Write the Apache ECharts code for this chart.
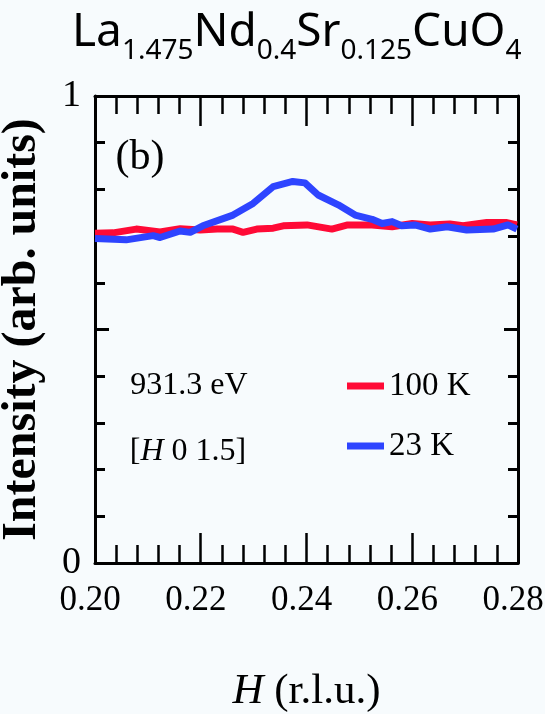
<!DOCTYPE html>
<html>
<head>
<meta charset="utf-8">
<script src="https://cdn.jsdelivr.net/npm/echarts@6.0.0/dist/echarts.min.js"></script>
<style>
  html, body { margin: 0; padding: 0; background: #f7fbfd; }
  #chart { width: 545px; height: 714px; }
</style>
</head>
<body>
<div id="chart"></div>
<script>
// 23 K scan (blue)
const h23 = [0.2000, 0.2059, 0.2110, 0.2123, 0.2161, 0.2180, 0.2204, 0.2261, 0.2299, 0.2337,
  0.2374, 0.2397, 0.2422, 0.2460, 0.2492, 0.2524, 0.2543, 0.2562, 0.2580, 0.2605,
  0.2634, 0.2666, 0.2703, 0.2753, 0.2781, 0.2798]
const i23 = [0.695, 0.692, 0.701, 0.697, 0.711, 0.708, 0.722, 0.745, 0.770, 0.806,
  0.817, 0.814, 0.788, 0.767, 0.745, 0.736, 0.727, 0.731, 0.722, 0.724,
  0.715, 0.720, 0.713, 0.715, 0.724, 0.715]

// 100 K scan (red)
const h100 = [0.2000, 0.2034, 0.2078, 0.2123, 0.2161, 0.2199, 0.2231, 0.2261, 0.2280, 0.2306,
  0.2337, 0.2356, 0.2401, 0.2448, 0.2478, 0.2524, 0.2562, 0.2600, 0.2634, 0.2671,
  0.2696, 0.2741, 0.2779, 0.2798]
const i100 = [0.706, 0.707, 0.715, 0.709, 0.716, 0.713, 0.715, 0.715, 0.708, 0.715,
  0.717, 0.722, 0.724, 0.715, 0.724, 0.724, 0.720, 0.727, 0.724, 0.726,
  0.722, 0.729, 0.729, 0.724]

const seriesNames = ['100 K', '23 K']
const xTicks = [0.20, 0.22, 0.24, 0.26, 0.28]

const serif = 'Liberation Serif'
const zip = (xs, ys) => xs.map((x, k) => [x, ys[k]])

// 坐标轴公共样式：刻度朝内，主刻度长、次刻度短
const xAxisBase = {
  type: 'value', min: 0.2, max: 0.28, interval: 0.02,
  axisLine: { show: true, onZero: false, lineStyle: { color: '#000', width: 3 } },
  axisTick: { show: true, inside: true, length: 30, lineStyle: { color: '#000', width: 2.5 } },
  minorTick: { show: true, splitNumber: 5, length: 18, lineStyle: { color: '#000', width: 2.5 } },
  splitLine: { show: false }
}
const yAxisBase = {
  type: 'value', min: 0, max: 1, interval: 0.5,
  axisLine: { show: true, onZero: false, lineStyle: { color: '#000', width: 3 } },
  axisTick: { show: true, inside: true, length: 14, lineStyle: { color: '#000', width: 3 } },
  minorTick: { show: true, splitNumber: 5, length: 10, lineStyle: { color: '#000', width: 3 } },
  splitLine: { show: false }
}

const chart = echarts.init(document.getElementById('chart'))

chart.setOption({
  backgroundColor: '#f7fbfd',
  animation: false,
  title: {
    text: '{m|La}{s|1.475}{m|Nd}{s|0.4}{m|Sr}{s|0.125}{m|CuO}{s|4}',
    left: 67, top: -4,
    textStyle: {
      fontWeight: 'normal',
      rich: {
        m: { fontFamily: 'Noto Sans', fontSize: 46, fontWeight: 'normal', color: '#000', lineHeight: 64, verticalAlign: 'middle' },
        s: { fontFamily: 'Noto Sans', fontSize: 28, fontWeight: 'normal', color: '#000', lineHeight: 28, verticalAlign: 'bottom' }
      }
    }
  },
  grid: { left: 95, right: 27, top: 96, bottom: 151, containLabel: false, outerBoundsMode: 'none' },
  legend: {
    data: seriesNames,
    orient: 'vertical', left: 342, top: 362,
    icon: 'rect', itemWidth: 37, itemHeight: 7, itemGap: 22,
    textStyle: { fontFamily: serif, fontSize: 33, color: '#000', lineHeight: 38 }
  },
  xAxis: [
    Object.assign({}, xAxisBase, {
      position: 'bottom',
      name: '{i|H} (r.l.u.)',
      nameLocation: 'middle', nameGap: 107,
      nameTextStyle: {
        fontFamily: serif, fontSize: 43, color: '#000',
        rich: { i: { fontFamily: serif, fontSize: 43, fontStyle: 'italic', color: '#000' } }
      },
      axisLabel: {
        margin: 20, fontFamily: serif, fontSize: 35, color: '#000', padding: [0, 10, 0, 0],
        formatter: v => xTicks.some(t => Math.abs(t - v) < 1e-6) ? v.toFixed(2) : ''
      }
    }),
    Object.assign({}, xAxisBase, { position: 'top', axisLabel: { show: false } })
  ],
  yAxis: [
    Object.assign({}, yAxisBase, {
      position: 'left',
      name: 'Intensity (arb. units)',
      nameLocation: 'middle', nameGap: 48,
      nameTextStyle: { fontFamily: serif, fontSize: 48, fontWeight: 'bold', color: '#000' },
      axisLabel: {
        margin: 14, fontFamily: serif, fontSize: 38, color: '#000',
        formatter: v => (v === 0 || v === 1) ? String(v) : ''
      }
    }),
    Object.assign({}, yAxisBase, { position: 'right', axisLabel: { show: false } })
  ],
  series: [
    {
      name: '100 K', type: 'line', data: zip(h100, i100),
      showSymbol: false, symbol: 'none',
      lineStyle: { color: '#ff0a36', width: 7, join: 'round' },
      itemStyle: { color: '#ff0a36' }
    },
    {
      name: '23 K', type: 'line', data: zip(h23, i23),
      showSymbol: false, symbol: 'none',
      lineStyle: { color: '#2e44ff', width: 7, join: 'round' },
      itemStyle: { color: '#2e44ff' }
    }
  ],
  graphic: [
    {
      type: 'text', x: 140, y: 158,
      style: { text: '(b)', font: '42px "Liberation Serif"', fill: '#000', align: 'center', verticalAlign: 'middle' }
    },
    {
      type: 'text', x: 189, y: 386,
      style: { text: '931.3 eV', font: '32px "Liberation Serif"', fill: '#000', align: 'center', verticalAlign: 'middle' }
    },
    {
      type: 'text', x: 188, y: 452,
      style: {
        text: '[{i|H} 0 1.5]', font: '32px "Liberation Serif"', fill: '#000', align: 'center', verticalAlign: 'middle',
        rich: { i: { fontFamily: serif, fontSize: 32, fontStyle: 'italic', fill: '#000' } }
      }
    }
  ]
})
</script>
</body>
</html>
